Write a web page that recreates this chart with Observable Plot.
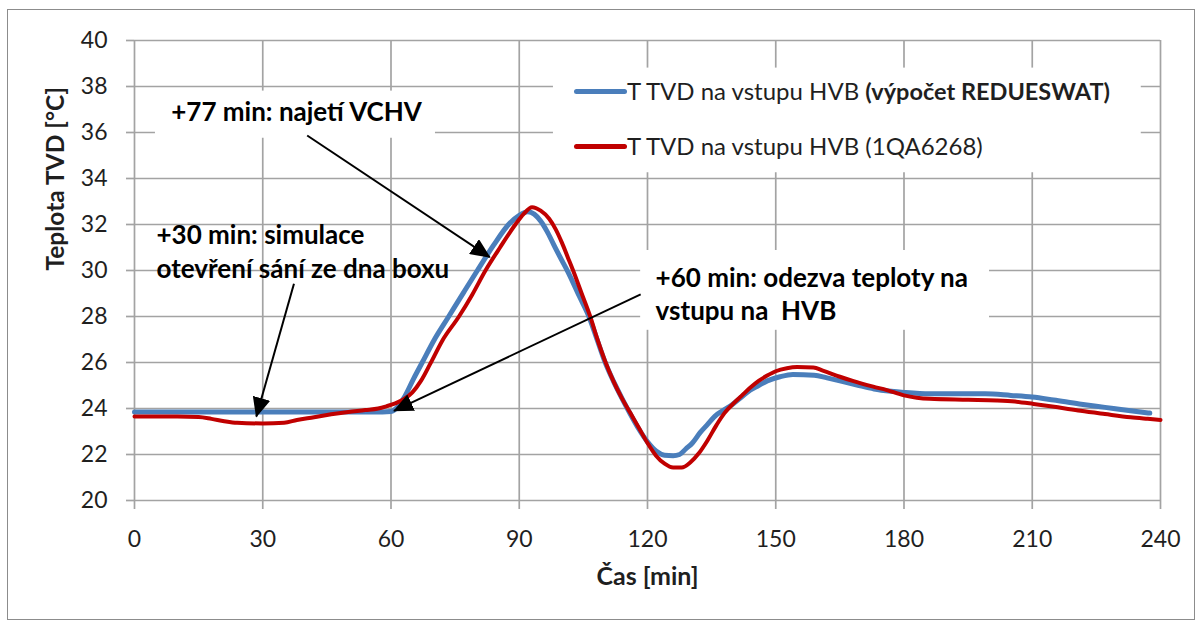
<!DOCTYPE html>
<html>
<head>
<meta charset="utf-8">
<script src="https://cdn.jsdelivr.net/npm/d3@7"></script>
<script src="https://cdn.jsdelivr.net/npm/@observablehq/plot@0.6"></script>
<style>
  html, body { margin: 0; padding: 0; background: #fff; }
  #wrap { position: relative; width: 1198px; height: 623px; overflow: hidden; font-family: Lato, "Open Sans", sans-serif; }
  #border { position: absolute; left: 7px; top: 9px; width: 1188px; height: 611px; border: 1px solid #8c8c8c; box-sizing: border-box; }
  #chart { position: absolute; left: 0; top: 0; }
  .leg { position: absolute; left: 574px; font-size: 24px; color: #1f1f1f; white-space: nowrap; }
  .leg .sw { position: absolute; left: 0; width: 53px; height: 5px; border-radius: 3px; }
  .leg .tx { position: absolute; left: 53px; line-height: 28px; top: -14px; }
  .leg b { font-size: 23.5px; }
</style>
</head>
<body>
<div id="wrap">
  <div id="border"></div>
  <div id="chart"></div>
  <div class="leg" style="top:91px"><div class="sw" style="background:#4a7ebb;top:-2.5px"></div><div class="tx">T TVD na vstupu HVB <b>(výpočet REDUESWAT)</b></div></div>
  <div class="leg" style="top:146px"><div class="sw" style="background:#c00000;top:-2px;height:4.5px"></div><div class="tx">T TVD na vstupu HVB (1QA6268)</div></div>
</div>
<script>
// ---- data ----
const xTicks = [0, 30, 60, 90, 120, 150, 180, 210, 240];
const yTicks = [20, 22, 24, 26, 28, 30, 32, 34, 36, 38, 40];

const blueT = [0, 10, 20, 30, 40, 50, 58, 60, 61.5, 63, 65.3, 67.3, 70, 73.5, 77, 80.2, 84, 87.5, 90, 92, 93.5, 95, 96.5, 98, 99.5, 101.5, 104, 106.3, 108.2, 110, 112, 114, 116, 118, 120, 122, 124, 126, 127.5, 129, 130.5, 132.3, 134, 136, 138, 140, 142, 144, 146, 148, 151, 154, 159, 162, 165, 169, 173, 177, 180, 186, 199, 205, 210, 215, 221, 225, 229, 233, 237.5];
const blueV = [23.85, 23.85, 23.85, 23.85, 23.85, 23.85, 23.85, 23.87, 24.05, 24.45, 25.3, 26.0, 26.95, 28.0, 29.05, 30.0, 31.1, 32.0, 32.4, 32.55, 32.45, 32.15, 31.7, 31.15, 30.6, 29.9, 28.9, 28.0, 27.0, 26.05, 25.2, 24.45, 23.75, 23.1, 22.55, 22.15, 21.97, 21.95, 22.0, 22.25, 22.5, 22.95, 23.3, 23.7, 23.95, 24.2, 24.5, 24.8, 25.0, 25.2, 25.38, 25.48, 25.45, 25.33, 25.2, 25.02, 24.85, 24.75, 24.7, 24.64, 24.64, 24.57, 24.5, 24.37, 24.2, 24.1, 24.0, 23.9, 23.8];

const redT = [0, 10, 15, 18, 21, 24, 30, 35, 38, 42, 46, 50, 54, 57, 59, 61, 63, 65, 67, 69.2, 72, 75.9, 79, 82.1, 85.5, 89.1, 91, 93, 95, 97, 98.5, 100, 101.3, 102.6, 104.6, 106.6, 108.3, 110, 112, 114, 116, 118, 120, 122, 124, 126, 128, 130, 132, 134, 136.2, 138, 140, 142, 144, 146, 148, 150, 152.6, 155, 158.8, 161, 165, 168, 172.8, 176, 180, 183, 186, 195, 201.7, 206, 210.3, 216, 221.3, 227, 233, 237, 240];
const redV = [23.65, 23.65, 23.63, 23.55, 23.45, 23.38, 23.35, 23.38, 23.5, 23.62, 23.75, 23.85, 23.93, 24.0, 24.1, 24.22, 24.4, 24.7, 25.2, 25.95, 26.95, 28.0, 28.95, 30.0, 31.0, 32.0, 32.45, 32.75, 32.6, 32.25, 31.8, 31.2, 30.6, 30.0, 29.0, 28.0, 27.0, 26.1, 25.2, 24.45, 23.8, 23.15, 22.5, 21.95, 21.6, 21.43, 21.43, 21.65, 22.05, 22.6, 23.3, 23.8, 24.2, 24.55, 24.9, 25.2, 25.43, 25.62, 25.75, 25.8, 25.78, 25.65, 25.38, 25.2, 24.95, 24.8, 24.57, 24.47, 24.42, 24.38, 24.35, 24.3, 24.2, 24.05, 23.9, 23.76, 23.62, 23.55, 23.5];

const annText = ["+77 min: najetí VCHV", "+30 min: simulace", "otevření sání ze dna boxu", "+60 min: odezva teploty na", "vstupu na\u00a0 HVB"];
const annX = [8.6, 5.15, 5.15, 121.9, 121.9];
const annY = [36.87, 31.52, 30.05, 29.65, 28.2];

const arrowX1 = [40.4, 37.3, 118.4];
const arrowY1 = [35.87, 29.42, 28.96];
const arrowX2 = [83.1, 28.5, 60.7];
const arrowY2 = [30.58, 23.65, 23.9];

const boxX1 = [4.9, 118.4, 98];
const boxX2 = [70.4, 200, 235.5];
const boxY1 = [35.75, 27.4, 34.25];
const boxY2 = [37.8, 30.87, 38.8];

const yLabel = "Teplota TVD [°C]";
const xLabel = "Čas [min]";

// ---- build ----
const blue = blueT.map((t, i) => ({t, v: blueV[i]}));
const red = redT.map((t, i) => ({t, v: redV[i]}));
const ann = annText.map((s, i) => ({s, x: annX[i], y: annY[i]}));
const arrows = arrowX1.map((x1, i) => ({x1, y1: arrowY1[i], x2: arrowX2[i], y2: arrowY2[i]}));
const boxes = boxX1.map((x1, i) => ({x1, x2: boxX2[i], y1: boxY1[i], y2: boxY2[i]}));

const gridColor = "#a3a3a3";
const chart = Plot.plot({
  width: 1198, height: 623,
  marginLeft: 134, marginRight: 38, marginTop: 40, marginBottom: 123,
  x: {domain: [0, 240]},
  y: {domain: [20, 40]},
  style: {fontFamily: "Lato, 'Open Sans', sans-serif", fontSize: "23px", color: "#1f1f1f", background: "transparent", overflow: "visible"},
  marks: [
    Plot.gridX(xTicks, {stroke: gridColor, strokeOpacity: 1, strokeWidth: 1.7}),
    Plot.gridY(yTicks, {stroke: gridColor, strokeOpacity: 1, strokeWidth: 1.7}),
    Plot.axisX(xTicks, {tickSize: 9, tickPadding: 21, stroke: gridColor, strokeWidth: 1.7, fill: "#1f1f1f", fontSize: 23, label: null}),
    Plot.axisY(yTicks, {tickSize: 8, tickPadding: 19, stroke: gridColor, strokeWidth: 1.7, fill: "#1f1f1f", fontSize: 23, label: null}),
    Plot.rect(boxes, {x1: "x1", x2: "x2", y1: "y1", y2: "y2", fill: "white"}),
    Plot.line(blue, {x: "t", y: "v", stroke: "#4a7ebb", strokeWidth: 5, curve: "monotone-x"}),
    Plot.line(red, {x: "t", y: "v", stroke: "#c00000", strokeWidth: 4, curve: "monotone-x"}),
    Plot.link(arrows, {x1: "x1", y1: "y1", x2: "x2", y2: "y2", stroke: "black", strokeWidth: 2}),
    Plot.text(ann, {x: "x", y: "y", text: "s", textAnchor: "start", lineAnchor: "middle", fontWeight: "bold", fontSize: 26, fill: "black"}),
    Plot.text([yLabel], {text: d => d, frameAnchor: "left", dx: -78, rotate: -90, fontWeight: "bold", fontSize: 24.5, fill: "#1f1f1f"}),
    Plot.text([xLabel], {text: d => d, frameAnchor: "bottom", dy: 84, fontWeight: "bold", fontSize: 25, fill: "#1f1f1f"})
  ]
});
document.getElementById("chart").appendChild(chart);

// filled arrowheads
const svg = chart.tagName.toLowerCase() === "svg" ? chart : chart.querySelector("svg");
const ns = "http://www.w3.org/2000/svg";
const defs = document.createElementNS(ns, "defs");
const m = document.createElementNS(ns, "marker");
m.setAttribute("id", "ahead");
m.setAttribute("viewBox", "0 0 20 18");
m.setAttribute("refX", "19");
m.setAttribute("refY", "9");
m.setAttribute("markerWidth", "20");
m.setAttribute("markerHeight", "18");
m.setAttribute("markerUnits", "userSpaceOnUse");
m.setAttribute("orient", "auto");
const p = document.createElementNS(ns, "path");
p.setAttribute("d", "M0,0L20,9L0,18Z");
p.setAttribute("fill", "black");
m.appendChild(p);
defs.appendChild(m);
svg.insertBefore(defs, svg.firstChild);
svg.querySelectorAll('g[aria-label="link"] path').forEach(el => el.setAttribute("marker-end", "url(#ahead)"));
</script>
</body>
</html>
